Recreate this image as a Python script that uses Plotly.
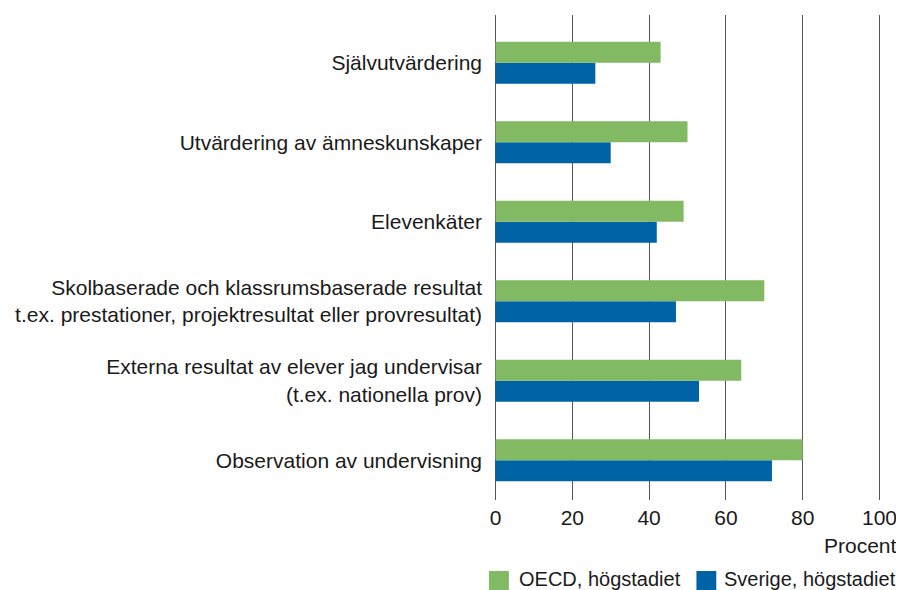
import plotly.graph_objects as go

categories = [
    "Självutvärdering",
    "Utvärdering av ämneskunskaper",
    "Elevenkäter",
    "Skolbaserade och klassrumsbaserade resultat<br>t.ex. prestationer, projektresultat eller provresultat)",
    "Externa resultat av elever jag undervisar<br>(t.ex. nationella prov)",
    "Observation av undervisning",
]
oecd = [43, 50, 49, 70, 64, 80]
sverige = [26, 30, 42, 47, 53, 72]
series_names = ["OECD, högstadiet", "Sverige, högstadiet"]
x_ticks = [0, 20, 40, 60, 80, 100]

GREEN = "#82B963"
BLUE = "#0063A6"
FONT = "Liberation Sans, Arial, sans-serif"

# The page body has an 8px margin, so the figure is sized/offset to compensate
OFF = 8
W, H = 904 - OFF, 590 - OFF
PL, PR, PT, PB = 492, 884, 15, 500  # plot area in page pixels
XMIN, XMAX = -0.65, 100.65

cats_rev = categories[::-1]
oecd_rev = oecd[::-1]
sverige_rev = sverige[::-1]
ypos = list(range(len(cats_rev)))

fig = go.Figure()
fig.add_trace(go.Bar(y=ypos, x=sverige_rev, orientation="h", name=series_names[1],
                     marker=dict(color=BLUE, line=dict(width=0)), showlegend=False))
fig.add_trace(go.Bar(y=ypos, x=oecd_rev, orientation="h", name=series_names[0],
                     marker=dict(color=GREEN, line=dict(width=0)), showlegend=False))

fig.update_layout(
    width=W, height=H,
    margin=dict(l=PL - OFF, r=904 - PR, t=PT - OFF, b=590 - PB, pad=0),
    barmode="group", bargap=0.47, bargroupgap=0,
    plot_bgcolor="white", paper_bgcolor="white",
    font=dict(family=FONT, color="#1a1a1a", size=21),
    xaxis=dict(range=[XMIN, XMAX], tickvals=x_ticks, showgrid=True, gridcolor="#555555",
               gridwidth=1, zeroline=True, zerolinecolor="#555555", zerolinewidth=1,
               showline=False, ticks="", tickfont=dict(size=21), ticklabelstandoff=3,
               fixedrange=True),
    yaxis=dict(tickvals=ypos, ticktext=cats_rev, range=[-0.5, 5.6], showgrid=False,
               zeroline=False, showline=False, ticks="", tickfont=dict(size=21),
               ticklabelstandoff=10, fixedrange=True),
)

def px_x(p):
    return (p - PL) / (PR - PL)

def px_y(p):
    return (PB - p) / (PB - PT)

# axis unit label
fig.add_annotation(text="Procent", xref="paper", yref="paper", x=px_x(901), y=px_y(545),
                   xanchor="right", yanchor="middle", showarrow=False, font=dict(size=21))

# legend drawn as shapes + text
legend_items = [(488, 508, 516, GREEN, series_names[0]), (697, 717, 723, BLUE, series_names[1])]
for x0, x1, tx, col, name in legend_items:
    fig.add_shape(type="rect", xref="paper", yref="paper", x0=px_x(x0), x1=px_x(x1),
                  y0=px_y(591), y1=px_y(571), fillcolor=col, line=dict(width=0))
    fig.add_annotation(text=name, xref="paper", yref="paper", x=px_x(tx), y=px_y(579),
                       xanchor="left", yanchor="middle", showarrow=False, font=dict(size=20))

fig.write_html("out.html")
